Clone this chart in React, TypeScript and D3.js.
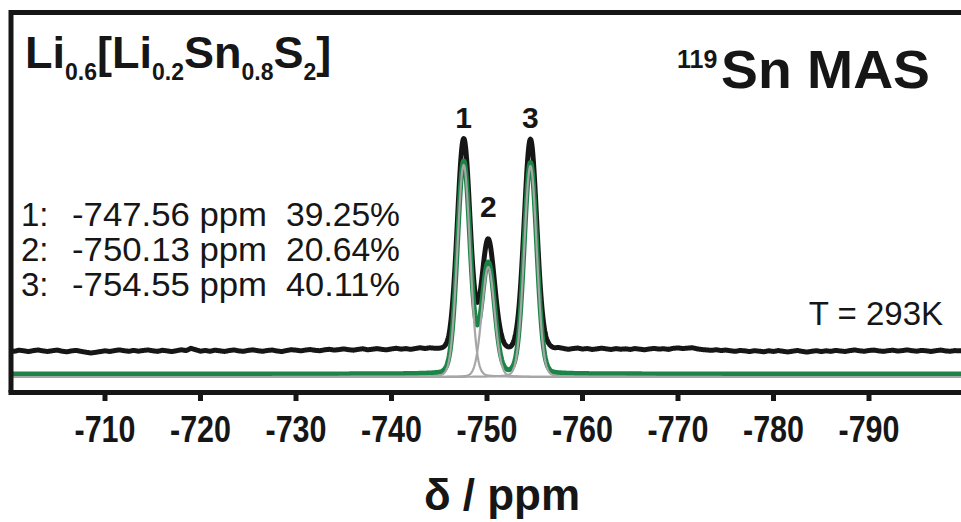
import React from 'react';
import * as d3 from 'd3';

const W = 961;
const H = 522;

// ---- data ----
const xTicks = [-710, -720, -730, -740, -750, -760, -770, -780, -790];
const peakLabels = ['1', '2', '3'];
const peakPositions = [-747.56, -750.13, -754.55];
const peakPercents = [39.25, 20.64, 40.11];
const peakHeights = [212, 110, 211];
const peakHwhm = [0.78, 0.78, 0.78];
const lorentzFraction = 0.08;
const fitBaseline = 3;
const expBaseline = 26;
const noiseStart = -700;
const noiseStep = -0.5;
const expNoise = [
  0.5, -0.3, 0.8, 0.2, -0.6, 0.4, 1.0, 0.1, -0.5, 0.3,
  0.9, -0.2, -0.8, 0.1, 0.6, -0.4, -1.2, -2.0, -1.4, -0.6,
  0.2, -0.5, 0.4, 1.1, 0.3, -0.3, 0.6, -0.2, 0.5, 1.0,
  0.2, -0.4, 0.7, 0.1, -0.6, 0.3, 1.2, 0.4, 2.6, 1.2,
  -0.2, 0.5, -0.3, 0.8, 0.2, -0.5, 0.4, 1.0, 0.1, -0.4,
  0.6, 1.1, 0.2, -0.3, 0.5, 0.9, 0.0, -0.6, 0.4, 1.2,
  0.8, 0.1, 0.9, 1.4, 0.6, 0.2, 1.1, 1.6, 0.8, 1.3,
  2.0, 1.2, 0.7, 1.5, 2.1, 1.0, 1.6, 2.2, 1.4, 0.9,
  1.8, 2.4, 1.5, 2.0, 1.2, 1.9, 2.6, 1.7, 2.2, 1.5,
  1.0, 0.5, -0.5, 0.8, 0.2, -0.6, 0.7, 0.4, -0.3, 0.6,
  0.3, -0.4, 0.5, 0.9, 0.1, -0.5, 0.4, 0.8, 0.0, 0.3,
  0.6, -0.2, 1.2, 2.0, 1.4, 2.2, 1.6, 0.9, 1.8, 2.4,
  1.5, 2.1, 1.2, 1.8, 2.6, 1.9, 1.3, 2.2, 1.6, 2.0,
  1.4, 2.3, 1.7, 1.1, 1.9, 2.5, 1.8, 2.2, 1.5, 2.6,
  3.0, 2.4, 2.8, 3.2, 2.1, 1.4, 1.0, 0.6, 1.2, 0.4,
  0.9, 0.2, -0.4, 0.5, 0.1, -0.6, 0.3, -0.2, -0.8, 0.2,
  -0.5, 0.4, -0.3, -1.0, -0.2, 0.5, -0.4, -1.1, -0.3, 0.3,
  -0.6, 0.2, -0.4, 0.6, 0.0, -0.5, 0.4, 1.0, 0.2, -0.3,
  0.5, 0.9, 0.1, -0.4, 0.3, 0.8, -0.1, 0.4, 1.1, 0.3,
  -0.2, 0.6, 0.2, -0.5, 0.3, 0.9, 0.1, -0.3, 0.4, 0.2,
  0.0,
];

const FONT = "'Liberation Sans', Arial, Helvetica, sans-serif";
const INK = '#161616';
const GREEN = '#1b8547';
const GRAY = '#a6a6a6';

function pv(ppm: number, i: number) {
  const u = (ppm - peakPositions[i]) / peakHwhm[i];
  const L = 1 / (1 + u * u);
  const G = Math.exp(-Math.LN2 * u * u);
  return peakHeights[i] * (lorentzFraction * L + (1 - lorentzFraction) * G);
}

function noiseAt(ppm: number) {
  const f = (ppm - noiseStart) / noiseStep;
  const i0 = Math.max(0, Math.min(expNoise.length - 1, Math.floor(f)));
  const i1 = Math.min(expNoise.length - 1, i0 + 1);
  const t = f - i0;
  return expNoise[i0] * (1 - t) + expNoise[i1] * t;
}

export default function App() {
  const x = d3.scaleLinear().domain([-700, -800]).range([9.5, 964.5]);
  const y = d3.scaleLinear().domain([0, 245]).range([377, 132]);

  const grid = d3.range(0, 2001).map((i) => -700 - i * 0.05);
  const line = d3
    .line<[number, number]>()
    .x((d) => x(d[0]))
    .y((d) => y(d[1]));

  const comps = peakPositions.map((_, i) => grid.map((p) => [p, pv(p, i)] as [number, number]));
  const total = grid.map((p, k) => [p, fitBaseline + comps.reduce((s, c) => s + c[k][1], 0)] as [number, number]);
  const exp = grid.map((p, k) => [p, expBaseline + (total[k][1] - fitBaseline) + noiseAt(p)] as [number, number]);

  const labelY = [128, 217, 128];
  const legendY = [226, 261, 296];

  return (
    <svg width={W} height={H} style={{ position: 'absolute', left: 0, top: 0, background: '#fff' }} fontFamily={FONT}>
      <rect width={W} height={H} fill="#fff" />
      <defs>
        <clipPath id="plotclip">
          <rect x={13} y={15} width={W - 13} height={375} />
        </clipPath>
      </defs>

      <g clipPath="url(#plotclip)" fill="none" strokeLinejoin="round">
        <path d={line(exp) || ''} stroke={INK} strokeWidth={5} />
        <path d={line(total) || ''} stroke={GREEN} strokeWidth={5} />
        {comps.map((c, i) => (
          <path key={i} d={line(c) || ''} stroke={GRAY} strokeWidth={2.2} />
        ))}
      </g>

      {/* frame */}
      <path d={`M11,392.5 V12.5 H${W}`} fill="none" stroke={INK} strokeWidth={5} />
      <path d={`M8.5,392.5 H${W}`} fill="none" stroke={INK} strokeWidth={5} />

      {/* ticks */}
      {xTicks.map((t) => (
        <g key={t}>
          <rect x={x(t) - 2.5} y={394} width={5} height={7} fill={INK} />
          <text
            x={x(t)}
            y={442}
            textAnchor="middle"
            fontSize={36}
            fontWeight="bold"
            fill={INK}
            textLength={61}
            lengthAdjust="spacingAndGlyphs"
          >
            {String(t)}
          </text>
        </g>
      ))}

      <text x={502} y={510} textAnchor="middle" fontSize={44} fontWeight="bold" fill={INK}>
        δ / ppm
      </text>

      {/* title */}
      <text x={25} y={68} fontSize={45} fontWeight="bold" fill={INK}>
        <tspan>Li</tspan>
        <tspan fontSize={23} dy={12}>0.6</tspan>
        <tspan dy={-12}>[Li</tspan>
        <tspan fontSize={23} dy={12}>0.2</tspan>
        <tspan dy={-12}>Sn</tspan>
        <tspan fontSize={23} dy={12}>0.8</tspan>
        <tspan dy={-12}>S</tspan>
        <tspan fontSize={23} dy={12}>2</tspan>
        <tspan dy={-12}>]</tspan>
      </text>

      <text x={677} y={68} fontSize={25} fontWeight="bold" fill={INK}>119</text>
      <text x={721} y={88} fontSize={54} fontWeight="bold" fill={INK} textLength={209} lengthAdjust="spacingAndGlyphs">
        Sn MAS
      </text>

      {/* peak labels */}
      {peakLabels.map((l, i) => (
        <text key={l} x={x(peakPositions[i])} y={labelY[i]} textAnchor="middle" fontSize={30} fontWeight="bold" fill={INK}>
          {l}
        </text>
      ))}

      {/* legend */}
      {peakLabels.map((l, i) => (
        <g key={'lg' + l} fontSize={33} fill={INK}>
          <text x={21} y={legendY[i]}>{l + ':'}</text>
          <text x={72} y={legendY[i]} textLength={195} lengthAdjust="spacingAndGlyphs">
            {peakPositions[i].toFixed(2) + ' ppm'}
          </text>
          <text x={286} y={legendY[i]} textLength={114} lengthAdjust="spacingAndGlyphs">
            {peakPercents[i].toFixed(2) + '%'}
          </text>
        </g>
      ))}

      <text x={943} y={325} textAnchor="end" fontSize={33} fill={INK}>T = 293K</text>
    </svg>
  );
}
